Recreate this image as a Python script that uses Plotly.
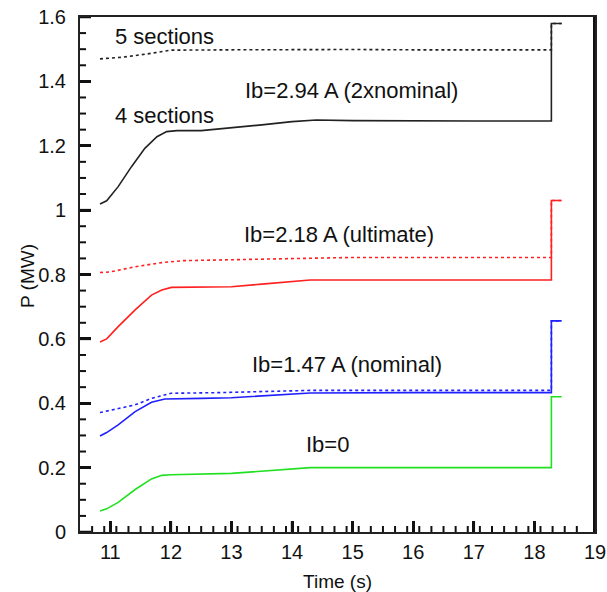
import plotly.graph_objects as go

# ---- data ----
t_black_solid = [10.83, 10.94, 11.13, 11.35, 11.57, 11.77, 11.93, 12.1, 12.5, 13.0, 13.5, 14.0, 14.4, 15.0, 16.0, 17.0, 18.28, 18.28, 18.45]
p_black_solid = [1.019, 1.029, 1.073, 1.135, 1.192, 1.228, 1.244, 1.247, 1.247, 1.255, 1.265, 1.275, 1.28, 1.278, 1.277, 1.277, 1.277, 1.58, 1.58]

t_black_dot = [10.83, 11.2, 11.6, 12.0, 13.0, 14.3, 15.0, 16.0, 17.0, 18.28, 18.28, 18.45]
p_black_dot = [1.47, 1.475, 1.485, 1.497, 1.498, 1.50, 1.499, 1.498, 1.498, 1.498, 1.58, 1.58]

t_red_solid = [10.83, 10.94, 11.13, 11.41, 11.68, 11.85, 12.01, 12.5, 13.0, 13.5, 14.3, 15.0, 16.0, 17.0, 18.28, 18.28, 18.45]
p_red_solid = [0.59, 0.60, 0.638, 0.69, 0.736, 0.752, 0.76, 0.76, 0.762, 0.77, 0.783, 0.783, 0.783, 0.783, 0.783, 1.03, 1.03]

t_red_dot = [10.83, 11.0, 11.41, 11.85, 12.2, 12.8, 14.3, 15.0, 16.0, 17.0, 18.28, 18.28, 18.45]
p_red_dot = [0.806, 0.808, 0.824, 0.837, 0.843, 0.845, 0.852, 0.853, 0.853, 0.853, 0.853, 1.03, 1.03]

t_blue_solid = [10.83, 10.94, 11.13, 11.41, 11.68, 11.9, 12.5, 13.0, 14.3, 15.0, 16.0, 17.0, 18.28, 18.28, 18.45]
p_blue_solid = [0.298, 0.309, 0.333, 0.374, 0.403, 0.413, 0.415, 0.417, 0.432, 0.433, 0.433, 0.433, 0.433, 0.656, 0.656]

t_blue_dot = [10.83, 11.41, 11.68, 12.0, 12.8, 14.3, 15.0, 16.0, 17.0, 18.28, 18.28, 18.45]
p_blue_dot = [0.371, 0.395, 0.415, 0.431, 0.433, 0.44, 0.44, 0.44, 0.44, 0.44, 0.656, 0.656]

t_green = [10.83, 10.94, 11.13, 11.41, 11.68, 11.85, 12.0, 12.5, 13.0, 14.3, 15.0, 16.0, 17.0, 18.28, 18.28, 18.45]
p_green = [0.065, 0.072, 0.092, 0.132, 0.165, 0.176, 0.178, 0.179, 0.182, 0.20, 0.20, 0.20, 0.20, 0.20, 0.42, 0.42]

label_texts = ["5 sections", "4 sections", "Ib=2.94 A (2xnominal)", "Ib=2.18 A (ultimate)", "Ib=1.47 A (nominal)", "Ib=0"]
label_t = [11.05, 11.05, 14.98, 14.77, 14.9, 14.58]
label_p = [1.539, 1.295, 1.373, 0.923, 0.519, 0.273]
label_anchor = ["left", "left", "center", "center", "center", "center"]

x_ticks = [11, 12, 13, 14, 15, 16, 17, 18, 19]
y_ticks = [0, 0.2, 0.4, 0.6, 0.8, 1.0, 1.2, 1.4, 1.6]
y_ticklabels = ["0", "0.2", "0.4", "0.6", "0.8", "1", "1.2", "1.4", "1.6"]
x_minor_step = 0.2
y_minor_step = 0.05

x_range = [10.5, 19]
y_range = [0, 1.6]

FONT = "Arial, Liberation Sans, sans-serif"
INK = "#111111"

W, H = 607, 592
M = dict(l=80, r=12, t=17, b=60)
plot_w = W - M["l"] - M["r"]
plot_h = H - M["t"] - M["b"]

fig = go.Figure()

def add(t, p, color, dash):
    fig.add_trace(go.Scatter(x=t, y=p, mode="lines",
                             line=dict(color=color, width=1.6, dash=dash),
                             showlegend=False, hoverinfo="skip"))

add(t_black_dot, p_black_dot, "#222222", "dot")
add(t_black_solid, p_black_solid, "#222222", "solid")
add(t_red_dot, p_red_dot, "#ff2020", "dot")
add(t_red_solid, p_red_solid, "#ff2020", "solid")
add(t_blue_dot, p_blue_dot, "#2020ff", "dot")
add(t_blue_solid, p_blue_solid, "#2020ff", "solid")
add(t_green, p_green, "#20e020", "solid")

# ---- inside tick marks, drawn as line traces (lengths converted from pixels) ----
px_x = (x_range[1] - x_range[0]) / plot_w   # data units per pixel, x
px_y = (y_range[1] - y_range[0]) / plot_h   # data units per pixel, y

n_xminor = int(round((x_range[1] - x_range[0]) / x_minor_step))
x_minor = [round(x_range[0] + x_minor_step * i, 6) for i in range(1, n_xminor)]
x_minor = [v for v in x_minor if not any(abs(v - m) < 1e-6 for m in x_ticks)]
n_yminor = int(round((y_range[1] - y_range[0]) / y_minor_step))
y_minor = [round(y_range[0] + y_minor_step * i, 6) for i in range(1, n_yminor)]
y_minor = [v for v in y_minor if not any(abs(v - m) < 1e-6 for m in y_ticks)]

for vals, length, width in [(x_ticks, 11, 2.5), (x_minor, 6, 2)]:
    for v in vals:
        fig.add_trace(go.Scatter(x=[v, v], y=[y_range[0], y_range[0] + length * px_y], mode="lines",
                                 line=dict(color=INK, width=width), showlegend=False, hoverinfo="skip"))

for vals, length, width in [(y_ticks, 11, 2.5), (y_minor, 6, 2)]:
    for v in vals:
        fig.add_trace(go.Scatter(x=[x_range[0], x_range[0] + length * px_x], y=[v, v], mode="lines",
                                 line=dict(color=INK, width=width), showlegend=False, hoverinfo="skip"))

# right frame edge (half of a wide line is clipped at the edge)
fig.add_trace(go.Scatter(x=[x_range[1], x_range[1]], y=y_range, mode="lines",
                         line=dict(color=INK, width=4), showlegend=False, hoverinfo="skip"))

for txt, tx, py, anc in zip(label_texts, label_t, label_p, label_anchor):
    fig.add_annotation(x=tx, y=py, text=txt, showarrow=False, xanchor=anc, yanchor="middle",
                       font=dict(family=FONT, size=22, color="#111111"))

fig.add_annotation(xref="paper", yref="paper", x=-0.103, y=0.497, text="P (MW)", textangle=-90,
                   showarrow=False, xanchor="center", yanchor="middle",
                   font=dict(family=FONT, size=19, color="#111111"))

fig.update_layout(
    width=W, height=H,
    margin=dict(**M, autoexpand=False),
    plot_bgcolor="white", paper_bgcolor="white",
    font=dict(family=FONT, size=20, color="#111111"),
)
fig.update_xaxes(
    range=x_range, tickmode="array", tickvals=x_ticks, ticktext=[str(v) for v in x_ticks],
    ticks="inside", ticklen=11, tickwidth=2.5, tickcolor=INK, ticklabelstandoff=1,
    showline=True, linecolor="#222222", linewidth=2, mirror=True,
    showgrid=False, zeroline=False, automargin=False,
    title=dict(text="Time (s)", font=dict(size=19), standoff=14),
)
fig.update_yaxes(
    range=y_range, tickmode="array", tickvals=y_ticks, ticktext=y_ticklabels,
    ticks="inside", ticklen=11, tickwidth=2.5, tickcolor=INK, ticklabelstandoff=8,
    showline=True, linecolor="#222222", linewidth=2, mirror=True,
    showgrid=False, zeroline=False, automargin=False,
)

fig.write_html("out.html", config={"displayModeBar": False},
               post_script="document.body.style.margin='0';document.documentElement.style.overflow='hidden';document.body.style.overflow='hidden';")
